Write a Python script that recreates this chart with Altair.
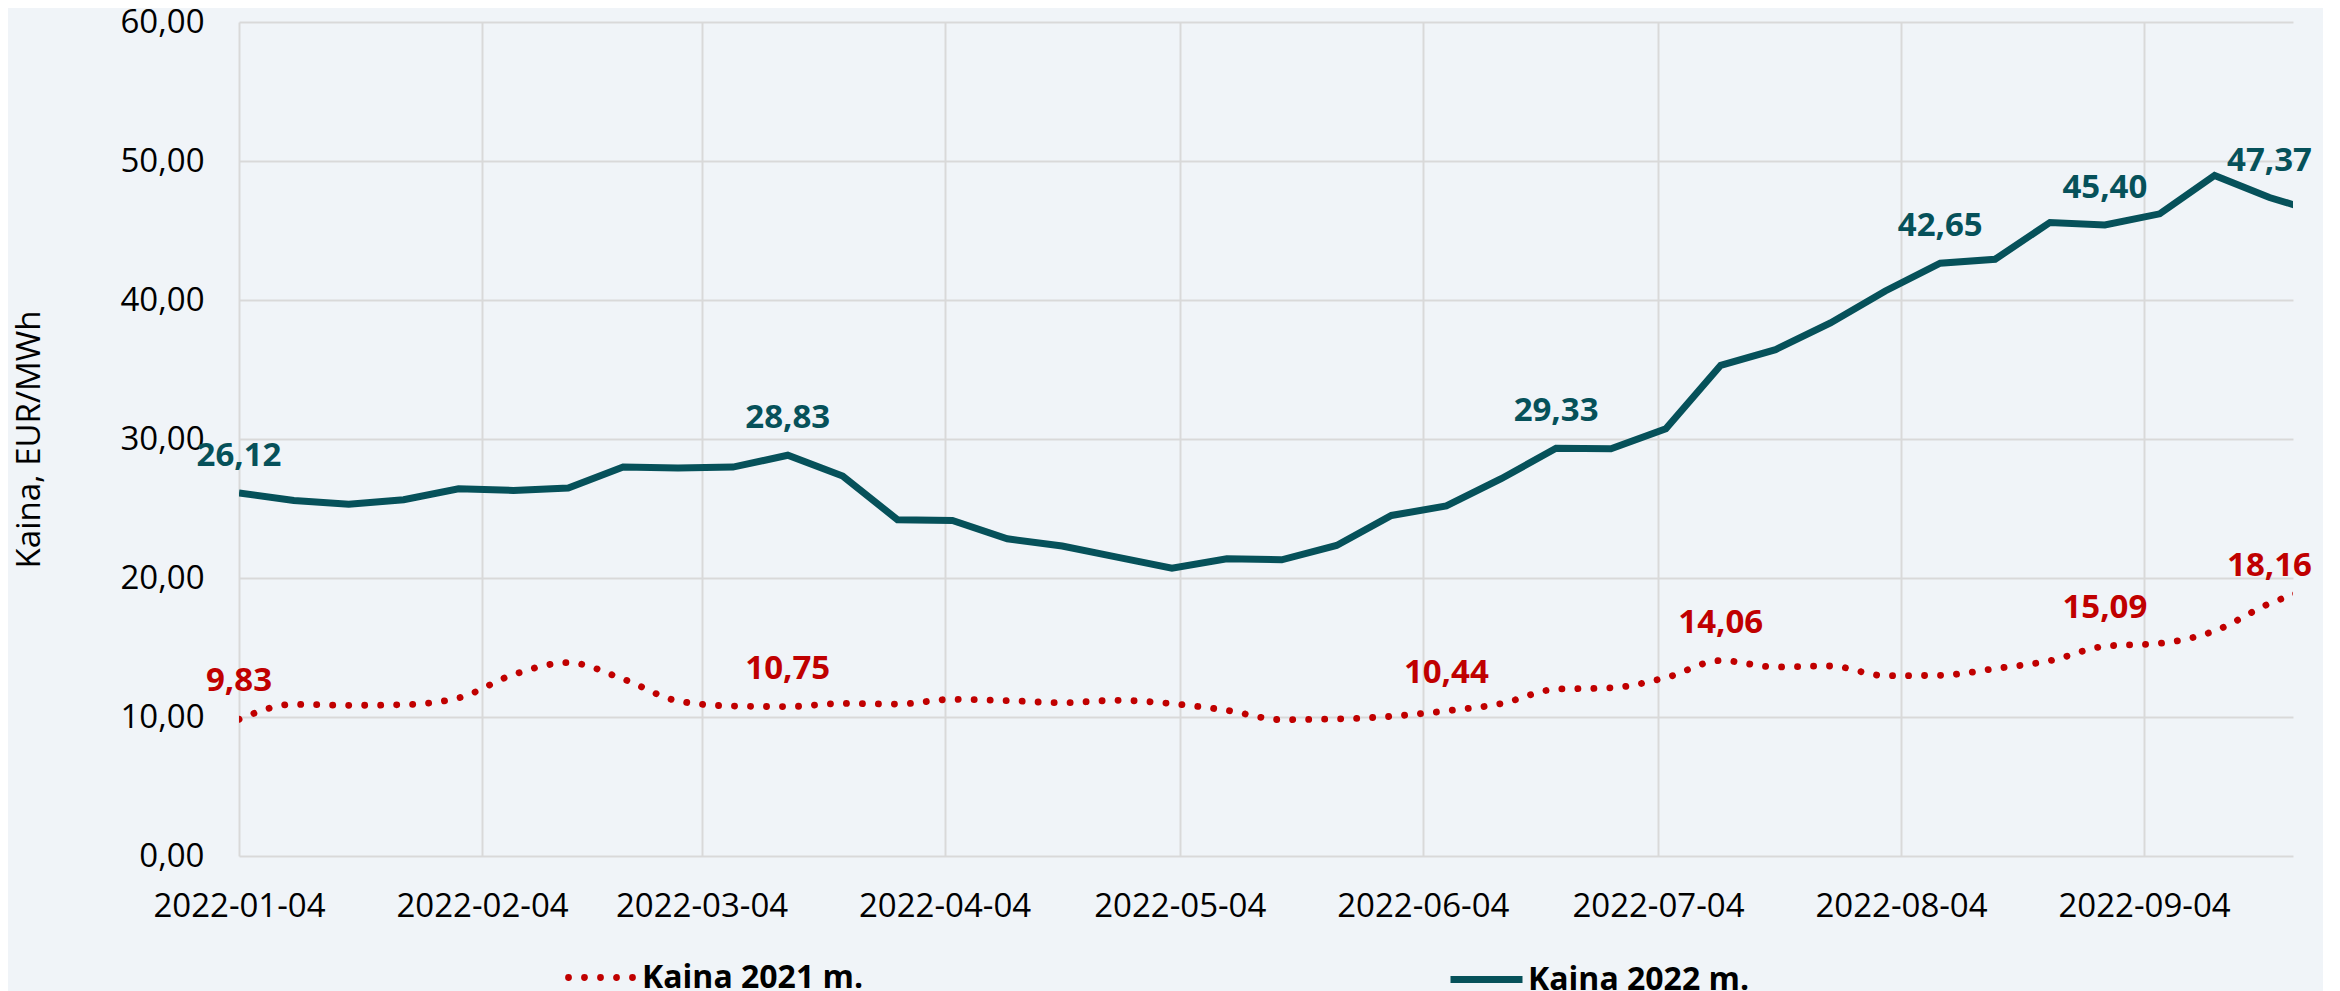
import altair as alt
import pandas as pd

dates = [
    "2022-01-04", "2022-01-11", "2022-01-18", "2022-01-25",
    "2022-02-01", "2022-02-08", "2022-02-15", "2022-02-22",
    "2022-03-01", "2022-03-08", "2022-03-15", "2022-03-22", "2022-03-29",
    "2022-04-05", "2022-04-12", "2022-04-19", "2022-04-26",
    "2022-05-03", "2022-05-10", "2022-05-17", "2022-05-24", "2022-05-31",
    "2022-06-07", "2022-06-14", "2022-06-21", "2022-06-28",
    "2022-07-05", "2022-07-12", "2022-07-19", "2022-07-26",
    "2022-08-02", "2022-08-09", "2022-08-16", "2022-08-23", "2022-08-30",
    "2022-09-06", "2022-09-13", "2022-09-20", "2022-09-27",
]

price_2021 = [
    9.83, 10.91, 10.84, 10.89, 11.37, 13.05, 13.91, 12.73, 11.15, 10.79,
    10.75, 10.98, 10.93, 11.27, 11.18, 11.03, 11.20, 10.96, 10.48, 9.81,
    9.86, 10.05, 10.44, 10.96, 12.00, 12.10, 12.83, 14.06, 13.60, 13.67,
    12.97, 13.00, 13.48, 14.05, 15.09, 15.30, 16.19, 18.16, 19.50,
]

price_2022 = [
    26.12, 25.58, 25.30, 25.63, 26.42, 26.30, 26.47, 27.98, 27.91, 27.98,
    28.83, 27.34, 24.19, 24.14, 22.82, 22.30, 21.50, 20.71, 21.38, 21.31,
    22.34, 24.50, 25.18, 27.14, 29.33, 29.30, 30.74, 35.30, 36.43, 38.35,
    40.65, 42.65, 42.93, 45.58, 45.40, 46.20, 48.96, 47.37, 46.20,
]

label_idx_2021 = [0, 10, 22, 27, 34, 37]
label_idx_2022 = [0, 10, 24, 31, 34, 37]

series_2021 = "Kaina 2021 m."
series_2022 = "Kaina 2022 m."
y_title = "Kaina, EUR/MWh"

RED = "#C00000"
TEAL = "#06515A"
FONT = "Open Sans"


def fmt(v):
    return f"{v:.2f}".replace(".", ",")


df21 = pd.DataFrame({"date": dates, "value": price_2021, "series": series_2021})
df22 = pd.DataFrame({"date": dates, "value": price_2022, "series": series_2022})
lab21 = pd.DataFrame({
    "date": [dates[i] for i in label_idx_2021],
    "value": [price_2021[i] for i in label_idx_2021],
    "label": [fmt(price_2021[i]) for i in label_idx_2021],
})
lab22 = pd.DataFrame({
    "date": [dates[i] for i in label_idx_2022],
    "value": [price_2022[i] for i in label_idx_2022],
    "label": [fmt(price_2022[i]) for i in label_idx_2022],
})

x_enc = alt.X(
    "date:T",
    scale=alt.Scale(
        type="utc",
        domain=[
            alt.DateTime(year=2022, month=1, date=4, utc=True),
            alt.DateTime(year=2022, month=9, date=23, utc=True),
        ],
    ),
    axis=alt.Axis(
        values=[alt.DateTime(year=2022, month=m, date=4, utc=True) for m in range(1, 10)],
        labelExpr="utcFormat(datum.value, '%Y-%m-%d')",
        title=None,
        grid=True,
        ticks=False,
        tickSize=0,
        domain=False,
        labelFlush=False,
        labelOverlap=False,
        labelPadding=34,
        labelFont=FONT,
        labelFontSize=33,
        labelColor="#000000",
    ),
)

y_enc = alt.Y(
    "value:Q",
    scale=alt.Scale(domain=[0, 60], nice=False, zero=True),
    axis=alt.Axis(
        values=[0, 10, 20, 30, 40, 50, 60],
        labelExpr="replace(format(datum.value, '.2f'), '.', ',')",
        title=y_title,
        titleFont=FONT,
        titleFontSize=33,
        titleFontWeight="normal",
        titleColor="#000000",
        titlePadding=73,
        grid=True,
        ticks=False,
        tickSize=0,
        domain=False,
        labelPadding=35,
        labelFont=FONT,
        labelFontSize=33,
        labelColor="#000000",
    ),
)

# legend symbol for the dotted series: a row of five dots
r = 0.045
dot_centers = [-0.853, -0.427, 0.0, 0.427, 0.853]
dots_path = "".join(
    f"M{c - r:.3f},0a{r},{r} 0 1,0 {2 * r:.3f},0a{r},{r} 0 1,0 {-2 * r:.3f},0"
    for c in dot_centers
)

red_line = alt.Chart(df21).mark_line(
    strokeWidth=6.8,
    strokeDash=[0.1, 15.9],
    strokeCap="round",
    interpolate="monotone",
    clip=True,
).encode(
    x=x_enc,
    y=y_enc,
    color=alt.Color(
        "series:N",
        scale=alt.Scale(domain=[series_2021], range=[RED]),
        legend=alt.Legend(
            title=None,
            orient="none",
            legendX=322,
            legendY=916,
            direction="horizontal",
            symbolType=dots_path,
            symbolSize=5625,
            symbolStrokeWidth=3.4,
            labelFont=FONT,
            labelFontSize=32,
            labelFontWeight="bold",
            labelColor="#000000",
            labelOffset=2,
            labelLimit=500,
            padding=0,
        ),
    ),
)

teal_line = alt.Chart(df22).mark_line(
    strokeWidth=7,
    clip=True,
).encode(
    x=x_enc,
    y=y_enc,
    stroke=alt.Stroke(
        "series:N",
        scale=alt.Scale(domain=[series_2022], range=[TEAL]),
        legend=alt.Legend(
            title=None,
            orient="none",
            legendX=1208,
            legendY=918,
            direction="horizontal",
            symbolType="stroke",
            symbolSize=5184,
            symbolStrokeWidth=7,
            labelFont=FONT,
            labelFontSize=32,
            labelFontWeight="bold",
            labelColor="#000000",
            labelOffset=2,
            labelLimit=500,
            padding=0,
        ),
    ),
)

red_text = alt.Chart(lab21).mark_text(
    font=FONT, fontSize=33, fontWeight="bold", color=RED,
    dy=-28, baseline="alphabetic", align="center",
).encode(x=x_enc, y=y_enc, text="label:N")

teal_text = alt.Chart(lab22).mark_text(
    font=FONT, fontSize=33, fontWeight="bold", color=TEAL,
    dy=-27, baseline="alphabetic", align="center",
).encode(x=x_enc, y=y_enc, text="label:N")

chart = alt.layer(red_line, teal_line, red_text, teal_text).resolve_legend(
    color="independent", stroke="independent"
).properties(
    width=2054,
    height=834,
    padding={"left": 231, "top": 14, "right": 30, "bottom": 135},
    autosize=alt.AutoSizeParams(type="none"),
    background="#F0F4F8",
).configure_view(
    stroke=None
).configure_axis(
    gridColor="#D9D9D9",
    gridWidth=2,
)

chart.save("out.html", embed_options={"renderer": "svg", "actions": False})
